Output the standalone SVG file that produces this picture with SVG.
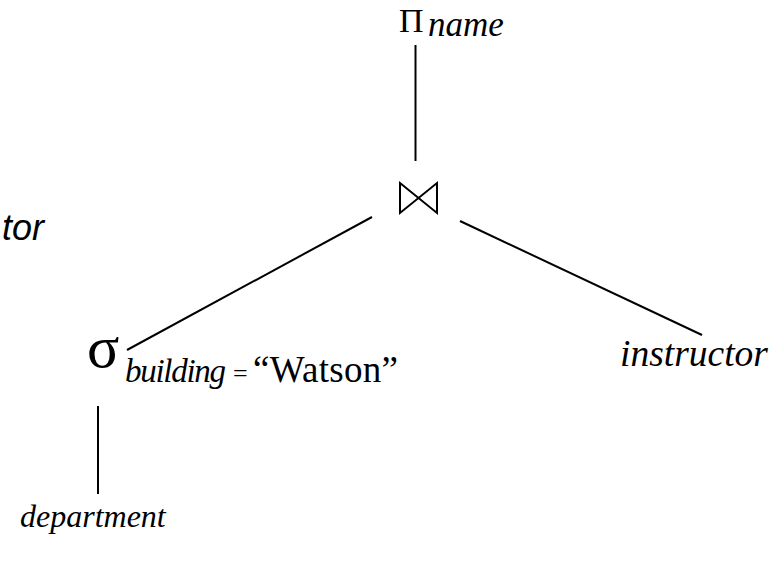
<svg xmlns="http://www.w3.org/2000/svg" width="783" height="562" viewBox="0 0 783 562">
  <style>
    .op { font-family: "Liberation Serif", "DejaVu Serif", serif; fill: #000; }
    .it { font-family: "Liberation Serif", "DejaVu Serif", serif; font-style: italic; fill: #000; }
    .edge { stroke: #000; stroke-width: 2; fill: none; }
  </style>
  <rect width="783" height="562" fill="#fff"/>

  <!-- cut-off heading fragment at the left edge -->
  <text x="44" y="240" text-anchor="end" font-family="'Liberation Sans', Arial, sans-serif" font-style="italic" font-size="36">tor</text>

  <g id="connectors">
    <line class="edge" x1="415.5" y1="45" x2="415.5" y2="161"/>
    <line class="edge" x1="372" y1="217" x2="127" y2="350"/>
    <line class="edge" x1="460" y1="221" x2="702" y2="335"/>
    <line class="edge" x1="98" y1="406" x2="98" y2="494"/>
  </g>

  <g id="project">
    <text class="op" x="399" y="32" font-size="34">Π</text>
    <text class="it" x="428" y="36" font-size="35">name</text>
  </g>

  <g id="join">
    <path class="edge" d="M400,183 L437,213 L437,183 L400,213 Z" stroke-linejoin="miter"/>
  </g>

  <g id="select">
    <text class="op" x="87" y="367" font-size="60">σ</text>
    <text class="it" x="125" y="382" font-size="33" textLength="101">building</text>
    <text class="op" x="233" y="382" font-size="26">=</text>
    <text class="op" x="253" y="382" font-size="37" textLength="145">“Watson”</text>
  </g>

  <g id="instructor">
    <text class="it" x="620" y="366" font-size="37.5">instructor</text>
  </g>

  <g id="department">
    <text class="it" x="20" y="527" font-size="32">department</text>
  </g>
</svg>
